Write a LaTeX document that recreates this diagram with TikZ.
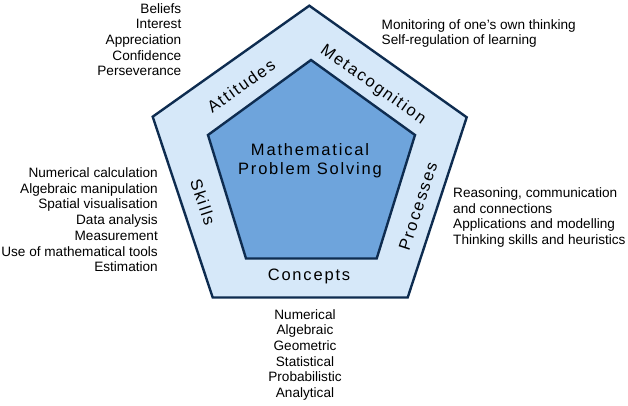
\documentclass[tikz,border=0pt]{standalone}
\usepackage{fontspec}
\setmainfont{Liberation Sans}
\newfontfamily\labelfont[LetterSpace=11]{Liberation Sans}
\definecolor{outerfill}{RGB}{214,232,249}
\definecolor{innerfill}{RGB}{110,164,220}
\definecolor{edgecol}{RGB}{14,44,80}
\tikzset{
  listtext/.style={inner sep=0pt, font=\fontsize{13.6}{15.7}\selectfont, text=black},
  ringlabel/.style={inner sep=0pt, font=\labelfont\fontsize{16.5}{19.5}\selectfont, text=black},
  pent/.style={draw=edgecol, line width=2.4pt, line join=miter}
}
\begin{document}
\begin{tikzpicture}[x=1pt,y=-1pt]
\useasboundingbox (0,0) rectangle (628,406);
% outer pentagon
\coordinate (ot) at (309.3,5.7);
\coordinate (or) at (466.7,117.3);
\coordinate (obr) at (407.7,297.5);
\coordinate (obl) at (212.7,297.5);
\coordinate (ol) at (152.7,116.7);
% inner pentagon
\coordinate (it) at (311,60);
\coordinate (ir) at (415,135);
\coordinate (ibr) at (376.7,258.5);
\coordinate (ibl) at (246,258.5);
\coordinate (il) at (208,135);
\draw[pent, fill=outerfill] (ot) -- (or) -- (obr) -- (obl) -- (ol) -- cycle;
\draw[pent, fill=innerfill] (it) -- (ir) -- (ibr) -- (ibl) -- (il) -- cycle;
% ring labels
\node[ringlabel, rotate=35.3] (att) at (241,86) {Attitudes};
\node[ringlabel, rotate=-35.3] (meta) at (373,85) {Metacognition};
\node[ringlabel, rotate=-71.7] (skl) at (203,202) {Skills};
\node[ringlabel, rotate=71.8] (proc) at (418,206) {Processes};
\node[ringlabel] (conc) at (309,276) {Concepts};
\node[ringlabel, align=center] (mps) at (310,160.5) {Mathematical\\Problem Solving};
% lists
\node[listtext, align=right, anchor=north east] (attl) at (181.5,3) {Beliefs\\Interest\\Appreciation\\Confidence\\Perseverance};
\node[listtext, align=left, anchor=north west] (metal) at (381.5,19) {Monitoring of one's own thinking\\Self-regulation of learning};
\node[listtext, align=right, anchor=north east] (skll) at (158,167.5) {Numerical calculation\\Algebraic manipulation\\Spatial visualisation\\Data analysis\\Measurement\\Use of mathematical tools\\Estimation};
\node[listtext, align=left, anchor=north west] (procl) at (453,187.5) {Reasoning, communication\\and connections\\Applications and modelling\\Thinking skills and heuristics};
\node[listtext, align=center, anchor=north] (concl) at (305,309) {Numerical\\Algebraic\\Geometric\\Statistical\\Probabilistic\\Analytical};
\end{tikzpicture}
\end{document}
